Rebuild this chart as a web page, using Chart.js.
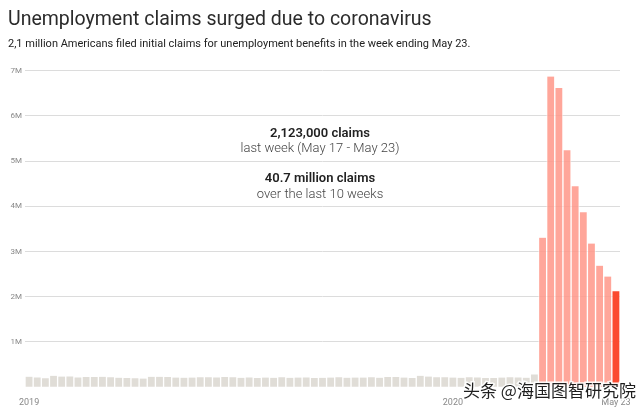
<!DOCTYPE html>
<html>
<head>
<meta charset="utf-8">
<script src="https://cdn.jsdelivr.net/npm/chart.js@4"></script>
<style>
  html, body { margin: 0; padding: 0; background: #fff; }
  #wrap { width: 640px; height: 412px; position: relative; }
</style>
</head>
<body>
<div id="wrap"><canvas id="grafico" width="640" height="412"></canvas></div>
<script>
// weekly initial claims (thousands), weeks ending Jan 5 2019 .. Dec 28 2019
const claims2019 = [
  233, 216, 200, 253, 234, 239, 216, 226, 223, 229, 221, 211, 202,
  196, 192, 230, 230, 228, 212, 211, 215, 218, 222, 216, 227, 221,
  209, 216, 206, 215, 209, 220, 209, 215, 217, 204, 208, 213, 219,
  210, 214, 212, 218, 211, 225, 227, 213, 203, 252, 235, 222, 220
];
// Jan 4 2020 .. Mar 14 2020
const claims2020 = [212, 207, 220, 217, 204, 206, 214, 220, 217, 211, 282];
// Mar 21 2020 .. May 23 2020
const claimsCovid = [3307, 6867, 6615, 5237, 4442, 3867, 3176, 2687, 2446, 2123];

const tickLabels = { '2019-01-05': '2019', '2020-01-04': '2020', '2020-05-23': 'May 23' };
const yTicks = [1, 2, 3, 4, 5, 6, 7];

const notes = [
  { text: '2,123,000 claims', bold: true, y: 5.61 },
  { text: 'last week (May 17 - May 23)', bold: false, y: 5.265 },
  { text: '40.7 million claims', bold: true, y: 4.60 },
  { text: 'over the last 10 weeks', bold: false, y: 4.25 }
];

const valores = claims2019.concat(claims2020, claimsCovid).map(v => v * 1000);

// week-ending dates
const semanas = [];
const inicio = new Date(Date.UTC(2019, 0, 5));
for (let i = 0; i < valores.length; i++) {
  const d = new Date(inicio.getTime() + i * 7 * 86400000);
  semanas.push(d.toISOString().slice(0, 10));
}

const nPre = claims2019.length + claims2020.length;
const cores = valores.map((v, i) => {
  if (i < nPre) return '#e0ddd7';
  if (i === valores.length - 1) return '#fb4a30';
  return 'rgba(255, 150, 136, 0.85)';
});
const bordas = valores.map((v, i) => i < nPre ? '#ffffff' : 'rgba(255,255,255,0.55)');

const FONTE = "Roboto, 'Liberation Sans', sans-serif";

const textoPlugin = {
  id: 'textos',
  afterDraw(chart) {
    const ctx = chart.ctx;
    const y = chart.scales.y;
    ctx.save();
    ctx.textAlign = 'center';
    ctx.textBaseline = 'middle';
    notes.forEach(n => {
      ctx.font = (n.bold ? '600 ' : '300 ') + '13px ' + FONTE;
      ctx.fillStyle = n.bold ? '#222' : '#444';
      ctx.fillText(n.text, 320, y.getPixelForValue(n.y * 1e6));
    });
    // watermark
    ctx.font = "17px 'Noto Sans CJK SC', sans-serif";
    ctx.textAlign = 'left';
    ctx.lineWidth = 3;
    ctx.strokeStyle = 'rgba(255,255,255,0.9)';
    ctx.fillStyle = '#1e1e1e';
    ctx.strokeText('头条 @海国图智研究院', 463, 391);
    ctx.fillText('头条 @海国图智研究院', 463, 391);
    ctx.restore();
  }
};

const grafico = new Chart(document.getElementById('grafico').getContext('2d'), {
  type: 'bar',
  data: {
    labels: semanas,
    datasets: [{
      data: valores,
      backgroundColor: cores,
      borderColor: bordas,
      borderWidth: { left: 1, right: 1, top: 0, bottom: 0 },
      borderSkipped: false,
      barPercentage: 1,
      categoryPercentage: 1
    }]
  },
  options: {
    responsive: false,
    animation: false,
    layout: { padding: { left: 8, right: 20, top: 4, bottom: 2 } },
    plugins: {
      legend: { display: false },
      tooltip: { enabled: false },
      title: {
        display: true,
        text: 'Unemployment claims surged due to coronavirus',
        align: 'start',
        color: '#2b2b2b',
        font: { family: FONTE, size: 19.5, weight: '400' },
        padding: { top: 4, bottom: 6 }
      },
      subtitle: {
        display: true,
        text: '2,1 million Americans filed initial claims for unemployment benefits in the week ending May 23.',
        align: 'start',
        color: '#222',
        font: { family: FONTE, size: 11, weight: '400' },
        padding: { top: 0, bottom: 20 }
      }
    },
    scales: {
      x: {
        grid: { display: false },
        border: { display: false },
        ticks: {
          autoSkip: false,
          maxRotation: 0,
          padding: 2,
          color: '#888',
          font: { family: FONTE, size: 9 },
          callback: function (v) {
            const s = this.getLabelForValue(v);
            return tickLabels[s] || '';
          }
        }
      },
      y: {
        min: 0,
        max: 7000000,
        afterFit(scale) { scale.width = 17; },
        afterBuildTicks(scale) {
          scale.ticks = [0].concat(yTicks).map(v => ({ value: v * 1e6 }));
        },
        border: { display: false },
        grid: {
          drawTicks: false,
          color: ctx => ctx.tick && ctx.tick.value === 0 ? 'rgba(0,0,0,0)' : '#dcdcdc'
        },
        ticks: {
          padding: 3,
          color: '#888',
          font: { family: FONTE, size: 8 },
          callback: v => v === 0 ? '' : (v / 1e6) + 'M'
        }
      }
    }
  },
  plugins: [textoPlugin]
});
</script>
</body>
</html>
